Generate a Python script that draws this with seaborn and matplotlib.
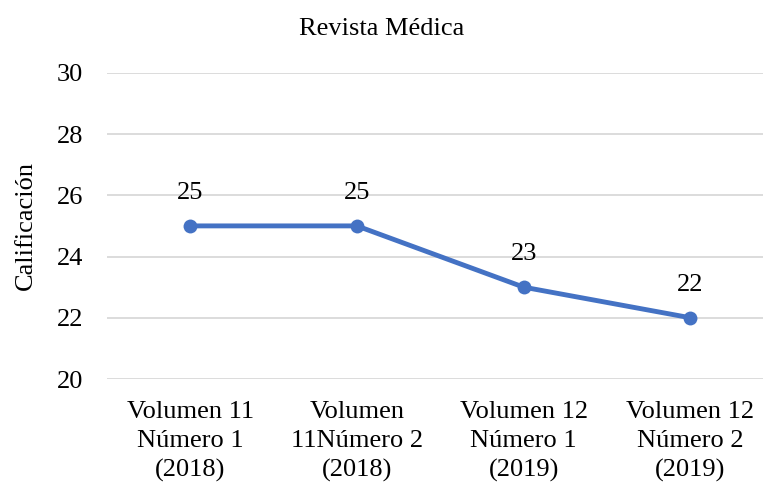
import matplotlib
matplotlib.use("Agg")
import matplotlib.pyplot as plt
import seaborn as sns
import pandas as pd

categories = ["Volumen 11\nNúmero 1\n(2018)", "Volumen\n11Número 2\n(2018)",
              "Volumen 12\nNúmero 1\n(2019)", "Volumen 12\nNúmero 2\n(2019)"]
scores = [25, 25, 23, 22]
yticks = [20, 22, 24, 26, 28, 30]

df = pd.DataFrame({"cat": categories, "score": scores})

sns.set_style("white")
plt.rcParams["font.family"] = ["Liberation Serif", "DejaVu Serif"]
plt.rcParams["text.color"] = "black"
plt.rcParams["xtick.color"] = "black"
plt.rcParams["ytick.color"] = "black"
plt.rcParams["axes.labelcolor"] = "black"

fig = plt.figure(figsize=(7.63, 4.83), dpi=100)
ax = fig.add_axes([0.14, 0.2153, 0.874, 0.634])

sns.lineplot(data=df, x="cat", y="score", ax=ax, color="#4472C4", linewidth=3.5,
             marker="o", markersize=10, markeredgewidth=0, sort=False)

for i, v in enumerate(scores):
    ax.annotate(str(v), (i, v), xytext=(0, 16), textcoords="offset points",
                ha="center", va="bottom", fontsize=19)

ax.set_xlim(-0.5, len(categories) - 0.5)
ax.set_ylim(20, 30)
ax.set_yticks(yticks)
ax.set_xticks(range(len(categories)))
ax.set_xticklabels(categories, linespacing=1.4)
ax.yaxis.grid(True, color="#d9d9d9", linewidth=1.3)
ax.set_axisbelow(True)
for s in ax.spines.values():
    s.set_visible(False)
ax.tick_params(axis="both", length=0, labelsize=19)
ax.tick_params(axis="x", pad=16)
ax.tick_params(axis="y", pad=17)
ax.set_xlabel("")
ax.set_ylabel("Calificación", fontsize=19, labelpad=14)
fig.suptitle("Revista Médica", fontsize=19, y=0.962)

fig.savefig("out.png", dpi=100)
